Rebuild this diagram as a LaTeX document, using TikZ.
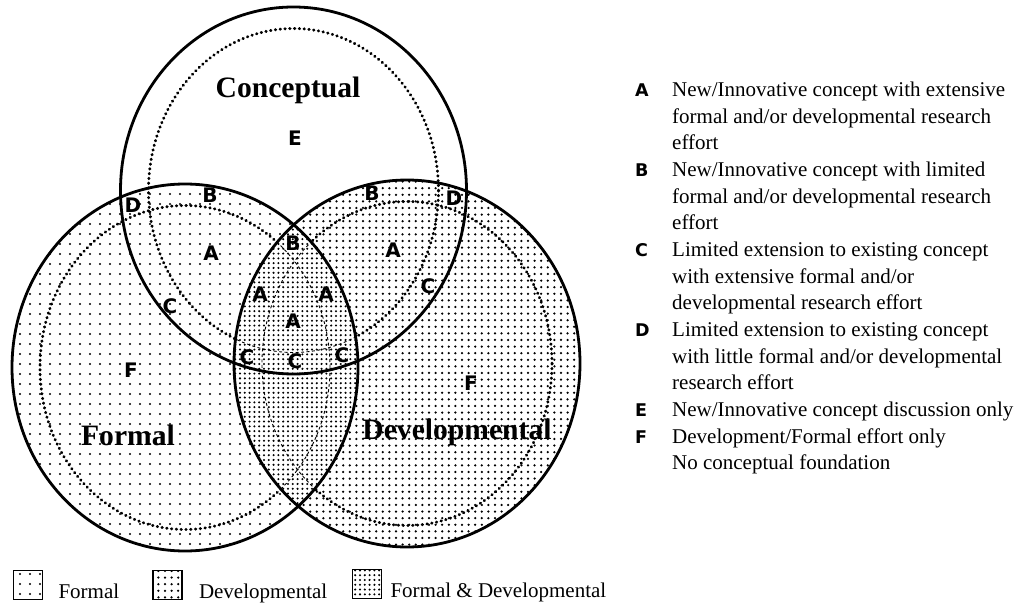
\documentclass[tikz,border=0pt]{standalone}
\usepackage{fontspec}
\setmainfont{Liberation Serif}
\newfontfamily\letterfont{DejaVu Sans}
\usetikzlibrary{patterns.meta}
\usetikzlibrary{positioning}

\newcommand{\outerrx}{173pt}
\newcommand{\outerry}{183.5pt}
\newcommand{\innerrx}{145pt}
\newcommand{\innerry}{162pt}
\newcommand{\keyletter}[1]{\makebox[37pt][l]{\letterfont\bfseries\fontsize{17.5}{17.5}\selectfont #1}}

\begin{document}
\begin{tikzpicture}[x=1pt, y=-1pt,
    ring/.style={line width=2.8pt},
    innerring/.style={line width=3pt, line cap=round, dash pattern=on 0.4pt off 4.4pt},
    lensring/.style={line width=0.9pt, dash pattern=on 3pt off 2.5pt},
    formalfill/.style={pattern={Dots[distance=10pt, radius=1.2pt]}},
    develfill/.style={pattern={Dots[distance=6.6pt, radius=1.25pt]}},
    bothfill/.style={pattern={Dots[distance=4.8pt, radius=1.15pt]}},
    regionlbl/.style={inner sep=0pt, font=\letterfont\bfseries\fontsize{20}{20}\selectfont},
    setlbl/.style={inner sep=0pt, font=\bfseries\fontsize{29.6}{30}\selectfont},
    keyitem/.style={inner sep=0pt, anchor=north west, font=\fontsize{21}{26.5}\selectfont},
    swatch/.style={draw, line width=1.6pt, minimum size=29pt, inner sep=0pt},
    legendtxt/.style={inner sep=0pt, anchor=base west, font=\fontsize{21}{21}\selectfont},
    node distance=0pt]
    \useasboundingbox (0,0) rectangle (1023,604);

    \coordinate (concept) at (293.5,190.5);
    \coordinate (formal) at (185,367.5);
    \coordinate (devel) at (407,363.5);

    % set fills
    \fill[formalfill] (formal) ellipse [x radius=\outerrx, y radius=\outerry];
    \fill[develfill] (devel) ellipse [x radius=\outerrx, y radius=\outerry];

    % inner rings
    \draw[innerring] (concept) ellipse [x radius=\innerrx, y radius=\innerry];
    \draw[innerring] (formal) ellipse [x radius=\innerrx, y radius=\innerry];
    \draw[innerring] (devel) ellipse [x radius=\innerrx, y radius=\innerry];

    % formal & developmental lens
    \begin{scope}
        \clip (formal) ellipse [x radius=\outerrx, y radius=\outerry];
        \clip (devel) ellipse [x radius=\outerrx, y radius=\outerry];
        \fill[white] (0,0) rectangle (1023,604);
        \fill[bothfill] (0,0) rectangle (1023,604);
        \draw[lensring] (concept) ellipse [x radius=\innerrx, y radius=\innerry];
        \draw[lensring] (formal) ellipse [x radius=\innerrx, y radius=\innerry];
        \draw[lensring] (devel) ellipse [x radius=\innerrx, y radius=\innerry];
    \end{scope}

    % outer rings
    \draw[ring] (concept) ellipse [x radius=\outerrx, y radius=\outerry];
    \draw[ring] (formal) ellipse [x radius=\outerrx, y radius=\outerry];
    \draw[ring] (devel) ellipse [x radius=\outerrx, y radius=\outerry];

    % set names
    \node (conceptlbl) [setlbl] at (288,90) {Conceptual};
    \node (formallbl) [setlbl] at (128,435) {Formal};
    \node (devellbl) [setlbl] at (457,432) {Developmental};

    % region letters
    \node (e) [regionlbl] at (295,138) {E};
    \node (dleft) [regionlbl] at (133,205) {D};
    \node (bleft) [regionlbl] at (210,195) {B};
    \node (aleft) [regionlbl] at (211,253) {A};
    \node (cleft) [regionlbl] at (170,306) {C};
    \node (fleft) [regionlbl] at (131,370) {F};
    \node (btop) [regionlbl] at (293,243) {B};
    \node (alens1) [regionlbl] at (260,294) {A};
    \node (alens2) [regionlbl] at (326,294) {A};
    \node (alens3) [regionlbl] at (293,321) {A};
    \node (clens1) [regionlbl] at (247,357) {C};
    \node (clens2) [regionlbl] at (295,361) {C};
    \node (clens3) [regionlbl] at (342,355) {C};
    \node (bright) [regionlbl] at (372,193) {B};
    \node (dright) [regionlbl] at (454,198) {D};
    \node (aright) [regionlbl] at (393,250) {A};
    \node (cright) [regionlbl] at (428,286) {C};
    \node (fright) [regionlbl] at (471,383) {F};

    % key
    \node (keyA) [keyitem] at (635,78.2) {\begin{tabular}{@{}l@{}l@{}}
        \keyletter{A} & New/Innovative concept with extensive\\
        & formal and/or developmental research\\
        & effort\end{tabular}};
    \node (keyB) [keyitem, below=of keyA.south west, anchor=north west] {\begin{tabular}{@{}l@{}l@{}}
        \keyletter{B} & New/Innovative concept with limited\\
        & formal and/or developmental research\\
        & effort\end{tabular}};
    \node (keyC) [keyitem, below=of keyB.south west, anchor=north west] {\begin{tabular}{@{}l@{}l@{}}
        \keyletter{C} & Limited extension to existing concept\\
        & with extensive formal and/or\\
        & developmental research effort\end{tabular}};
    \node (keyD) [keyitem, below=of keyC.south west, anchor=north west] {\begin{tabular}{@{}l@{}l@{}}
        \keyletter{D} & Limited extension to existing concept\\
        & with little formal and/or developmental\\
        & research effort\end{tabular}};
    \node (keyE) [keyitem, below=of keyD.south west, anchor=north west] {\begin{tabular}{@{}l@{}l@{}}
        \keyletter{E} & New/Innovative concept discussion only\end{tabular}};
    \node (keyF) [keyitem, below=of keyE.south west, anchor=north west] {\begin{tabular}{@{}l@{}l@{}}
        \keyletter{F} & Development/Formal effort only\\
        & No conceptual foundation\end{tabular}};

    % legend
    \node (swformal) [swatch, formalfill] at (28,585) {};
    \node (swdevel) [swatch, develfill] at (167.5,585) {};
    \node (swboth) [swatch, bothfill] at (367,584) {};
    \node (txformal) [legendtxt, right=15pt of swformal.south east, anchor=base west, yshift=2pt] {Formal};
    \node (txdevel) [legendtxt, right=16pt of swdevel.south east, anchor=base west, yshift=2pt] {Developmental};
    \node (txboth) [legendtxt, right=8pt of swboth.south east, anchor=base west, yshift=2pt] {Formal \& Developmental};
\end{tikzpicture}
\end{document}
